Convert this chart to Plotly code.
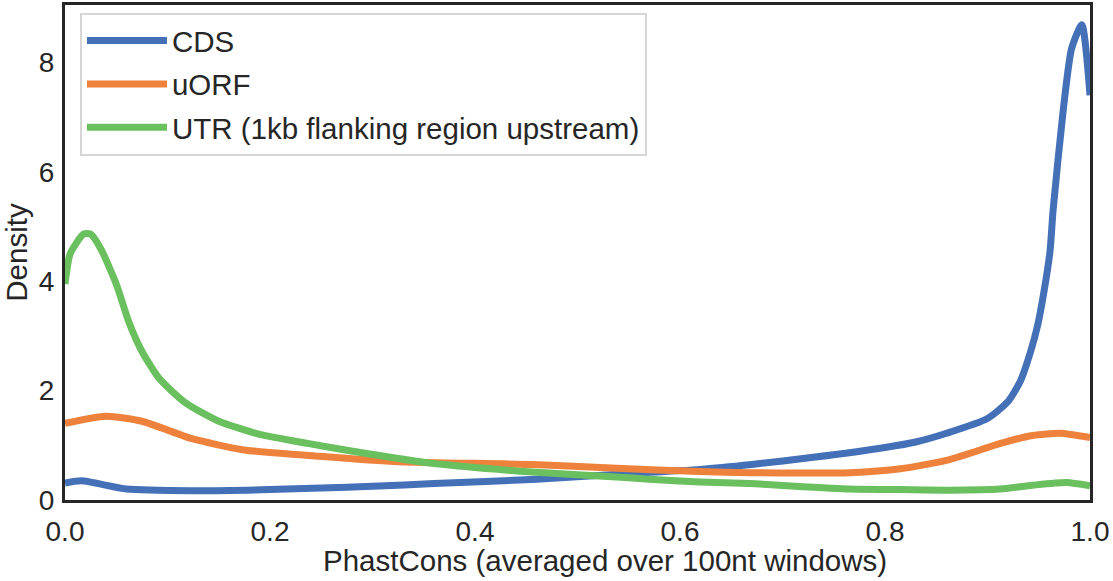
import plotly.graph_objects as go

# ---- data ----
cds_x = [0.0, 0.016, 0.06, 0.124, 0.2, 0.25, 0.3, 0.36, 0.46, 0.54, 0.62, 0.67, 0.73, 0.80,
         0.83, 0.86, 0.90, 0.92, 0.932, 0.942, 0.949, 0.955, 0.961, 0.964, 0.974, 0.982, 0.992, 1.0]
cds_y = [0.31, 0.35, 0.2, 0.17, 0.19, 0.22, 0.25, 0.30, 0.38, 0.47, 0.56, 0.65, 0.78, 0.96,
         1.06, 1.22, 1.49, 1.8, 2.17, 2.71, 3.2, 3.8, 4.55, 5.3, 7.15, 8.25, 8.69, 7.4]

uorf_x = [0.0, 0.04, 0.075, 0.124, 0.173, 0.248, 0.326, 0.456, 0.538, 0.619, 0.668, 0.766,
          0.815, 0.863, 0.912, 0.944, 0.971, 1.0]
uorf_y = [1.40, 1.53, 1.44, 1.12, 0.92, 0.80, 0.70, 0.65, 0.58, 0.52, 0.50, 0.50,
          0.57, 0.74, 1.03, 1.18, 1.22, 1.14]

utr_x = [0.0, 0.005, 0.018, 0.025, 0.035, 0.05, 0.062, 0.075, 0.092, 0.118, 0.15, 0.19, 0.238,
         0.294, 0.358, 0.456, 0.538, 0.57, 0.619, 0.668, 0.766, 0.815, 0.863, 0.912, 0.944,
         0.977, 1.0]
utr_y = [3.95, 4.5, 4.86, 4.86, 4.59, 3.95, 3.27, 2.72, 2.22, 1.77, 1.44, 1.2, 1.03,
         0.85, 0.67, 0.51, 0.42, 0.38, 0.33, 0.3, 0.2, 0.19, 0.18, 0.2, 0.27,
         0.32, 0.26]

series = [
    ("CDS", cds_x, cds_y, "#4470b8"),
    ("uORF", uorf_x, uorf_y, "#ee823c"),
    ("UTR (1kb flanking region upstream)", utr_x, utr_y, "#6abf5e"),
]

x_ticks = [0.0, 0.2, 0.4, 0.6, 0.8, 1.0]
x_tick_labels = ["0.0", "0.2", "0.4", "0.6", "0.8", "1.0"]
y_ticks = [0, 2, 4, 6, 8]
x_title = "PhastCons (averaged over 100nt windows)"

FONT = "Liberation Sans, Arial, sans-serif"
FS = 29.5
fig = go.Figure()
for i, (name, xs, ys, col) in enumerate(series):
    fig.add_trace(go.Scatter(
        x=xs, y=ys, mode="lines", name=name, legendgroup=str(i),
        line=dict(color=col, width=7, shape="spline", smoothing=0.6),
    ))

axis_common = dict(
    showline=True, mirror=True, linewidth=3, linecolor="#262626",
    showgrid=False, zeroline=False, ticks="",
    tickfont=dict(size=28, color="#262626", family=FONT),
)
fig.update_layout(
    width=1113, height=581,
    margin=dict(l=65, r=23, t=2, b=81),
    paper_bgcolor="white", plot_bgcolor="white",
    font=dict(family=FONT, color="#262626", size=FS),
    xaxis=dict(range=[0, 1], tickvals=x_ticks, ticktext=x_tick_labels,
               ticklabelstandoff=4, **axis_common),
    yaxis=dict(range=[0, 9.05], tickvals=y_ticks, ticklabelstandoff=2,
               title=dict(text="Density", font=dict(size=FS, family=FONT, color="#262626"),
                          standoff=12),
               **axis_common),
    legend=dict(x=0.0146, y=0.984, xanchor="left", yanchor="top",
                bgcolor="white", bordercolor="#d6d6d6", borderwidth=2,
                font=dict(size=FS, family=FONT, color="#262626"),
                tracegroupgap=2, itemwidth=80),
    showlegend=True,
    annotations=[dict(text=x_title, xref="paper", yref="paper", x=0.527, y=-0.1606,
                      xanchor="center", yanchor="bottom", showarrow=False,
                      font=dict(size=FS, family=FONT, color="#262626"))],
)
fig.write_html("out.html")
